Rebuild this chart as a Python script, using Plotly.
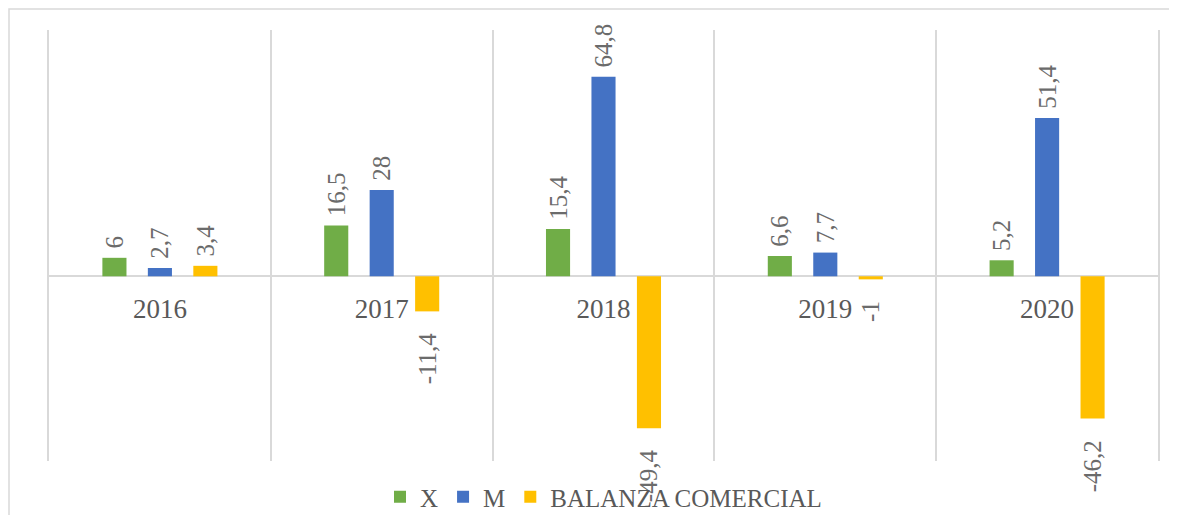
import plotly.graph_objects as go

years = ["2016", "2017", "2018", "2019", "2020"]
x_vals = [6, 16.5, 15.4, 6.6, 5.2]
m_vals = [2.7, 28, 64.8, 7.7, 51.4]
bc_vals = [3.4, -11.4, -49.4, -1, -46.2]
series_names = ["X", "M", "BALANZA COMERCIAL"]
colors = ["#70AD47", "#4472C4", "#FFC000"]

NB = "\u00a0"

def fmt(v):
    s = f"{v:g}".replace(".", ",")
    # gap between the bar end and its rotated label
    return NB + s if v >= 0 else s + NB * 3

fig = go.Figure()
for name, vals, col in zip(series_names, [x_vals, m_vals, bc_vals], colors):
    fig.add_trace(go.Bar(
        x=years, y=vals, name=name, marker_color=col, marker_line_width=0,
        text=[fmt(v) for v in vals], textposition="outside", textangle=-90,
        constraintext="none",
        textfont=dict(family="Liberation Serif", size=25, color="#6b6b6b"),
        cliponaxis=False,
    ))

# page body has an 8px margin, so the figure is sized to fit the window
W, H = 1169, 507
fig.update_layout(
    width=W, height=H,
    margin=dict(l=41, r=19, t=22, b=54, autoexpand=False),
    paper_bgcolor="white", plot_bgcolor="white",
    barmode="group", bargap=0.385, bargroupgap=0.47,
    legend=dict(orientation="h", x=0.5, xanchor="center",
                yref="container", y=(H - 489) / H, yanchor="middle",
                bgcolor="rgba(0,0,0,0)",
                font=dict(family="Liberation Serif", size=25, color="#595959"),
                itemwidth=30, traceorder="normal"),
    showlegend=True,
)
fig.update_xaxes(
    type="category", tickson="boundaries", showgrid=True, gridcolor="#d9d9d9", gridwidth=1.5,
    anchor="free", position=60/140, showline=False, ticks="",
    tickfont=dict(family="Liberation Serif", size=27, color="#595959"),
    ticklabelstandoff=14, range=[-0.5, 4.5],
)
fig.update_yaxes(
    range=[-60, 80], showticklabels=False, showgrid=False,
    zeroline=True, zerolinecolor="#d9d9d9", zerolinewidth=1.5,
    showline=True, mirror=True, linecolor="#d9d9d9", linewidth=1.5,
)
fig.add_shape(type="rect", xref="paper", yref="paper",
              x0=-40/1109, x1=1.06, y0=-0.2, y1=452/431,
              line=dict(color="#d9d9d9", width=1.5), fillcolor="rgba(0,0,0,0)", layer="below")
fig.write_html("out.html")
